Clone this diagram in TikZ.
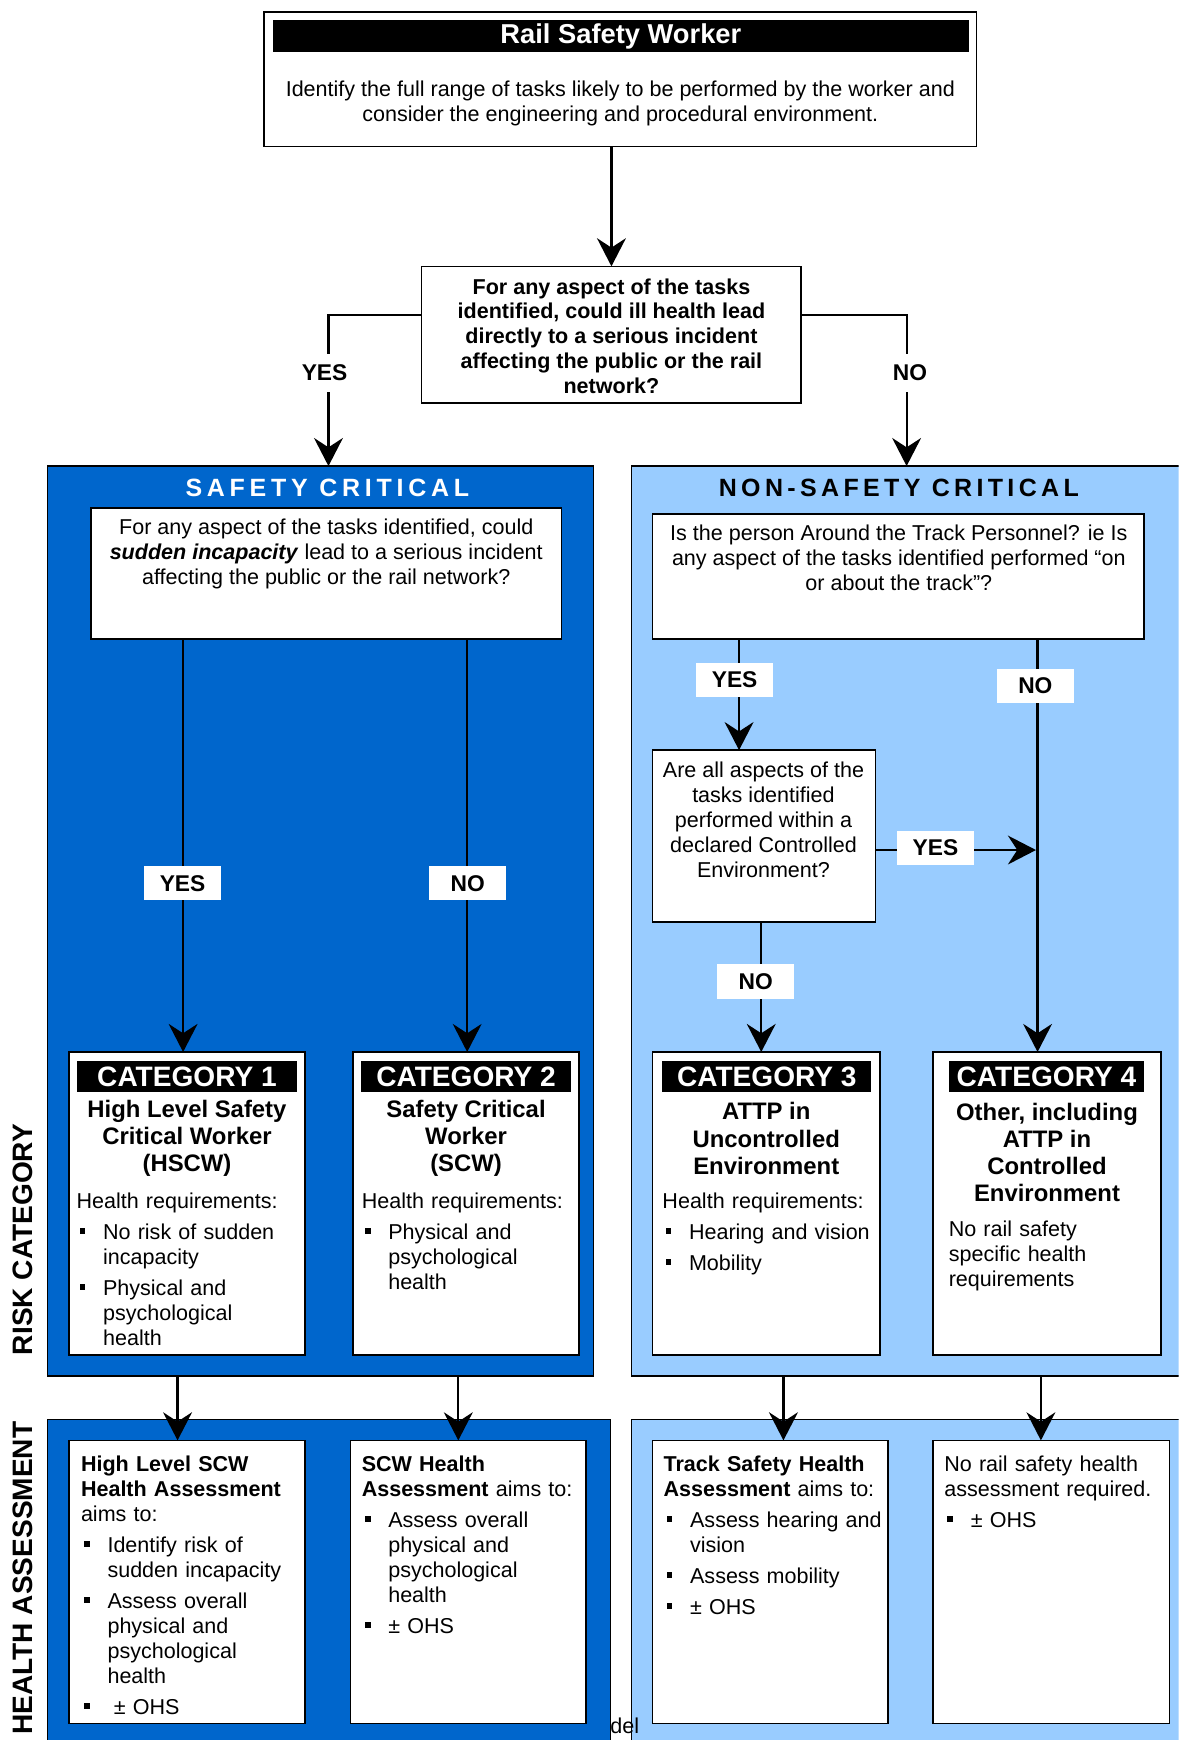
\documentclass[tikz,border=0pt]{standalone}
\usepackage{fontspec}
\setmainfont{Liberation Sans}
\usetikzlibrary{arrows.meta,fit}

\definecolor{scblue}{RGB}{0,102,204}
\definecolor{nscblue}{RGB}{153,204,255}

\newcommand\bodyfont{\fontsize{13.8}{16}\selectfont}
\newcommand\namefont{\fontsize{15.3}{17.4}\selectfont\bfseries}
% bullet item: new paragraph with hanging indent and a small square marker
\newcommand\bul[1][17pt]{\par\vspace{3.8pt}\hangindent=#1\hangafter=1\noindent
  \hbox to #1{\hskip2pt\rule[3.5pt]{3.6pt}{3.6pt}\hss}}
\newcommand\brk{\break}

\begin{document}
\begin{tikzpicture}[x=0.025cm,y=-0.025cm,
  every node/.style={inner sep=0pt,outer sep=0pt},
  whitebox/.style={draw=black,line width=1pt,fill=white},
  scpanel/.style={draw=black,line width=0.8pt,fill=scblue},
  nscpanel/.style={draw=black,line width=0.8pt,fill=nscblue},
  blackbar/.style={fill=black},
  bartext/.style={text=white,font=\fontsize{18}{20}\selectfont\bfseries},
  flowarrow/.style={line width=1.4pt,-{Stealth[length=18pt,width=18.5pt,inset=6pt]}},
  tagbox/.style={fill=white,minimum width=49.5pt,minimum height=22pt,
    font=\fontsize{14.6}{16}\selectfont\bfseries},
  outtag/.style={fill=white,minimum height=24pt,inner xsep=2pt,
    font=\fontsize{14.6}{16}\selectfont\bfseries},
  catname/.style={align=center,font=\namefont},
  ptext/.style={align=center,font=\bodyfont},
  qtext/.style={align=center,font=\bodyfont\bfseries},
  listtext/.style={anchor=north west,align=left,text width=6cm,font=\bodyfont},
  paneltitle/.style={font=\fontsize{16}{18}\selectfont\bfseries},
  sidelabel/.style={rotate=90,font=\fontsize{18}{20}\selectfont\bfseries},
]
\useasboundingbox (0,0) rectangle (1062,1568);
\clip (0,0) rectangle (1062,1568);

% ---------- coloured panels ----------
\node[scpanel, fit={(43,420) (535,1240)}] (sc) {};
\node[nscpanel, fit={(569,420) (1080,1240)}] (nsc) {};
\node[scpanel, fit={(43,1279) (550,1600)}] (hasc) {};
\node[nscpanel, fit={(569,1279) (1080,1600)}] (hansc) {};

\node[paneltitle, text=white] (sctitle) at (295,440) {\addfontfeature{LetterSpace=19}SAFETY CRITICAL};
\node[paneltitle] (nsctitle) at (810,440) {\addfontfeature{LetterSpace=17.5}NON-SAFETY CRITICAL};

% ---------- side labels ----------
\node[sidelabel] (riskcat) at (21,1117) {RISK CATEGORY};
\node[sidelabel, anchor=east] (healthas) at (21,1281) {HEALTH ASSESSMENT};

% ---------- top of the chart ----------
\node[whitebox, fit={(238,11) (880,132)}] (rsw) {};
\node[blackbar, fit={(246,18) (873,47)}] (rswbar) {};
\node[bartext, font=\fontsize{17.5}{20}\selectfont\bfseries] (rswtitle) at (rswbar) {Rail Safety Worker};
\node[ptext] (rswtext) at (559,93) {Identify the full range of tasks likely to be performed by the worker and\\consider the engineering and procedural environment.};

\node[whitebox, fit={(380,240) (722,363)}] (q1) {};
\node[qtext] (q1text) at (551,303) {For any aspect of the tasks\\identified, could ill health lead\\directly to a serious incident\\affecting the public or the rail\\network?};

\draw[flowarrow] (q1.north |- rsw.south) -- (q1.north);

\coordinate (yesturn) at (296,284);
\coordinate (noturn) at (817,284);
\draw[flowarrow] (q1.west |- yesturn) -- (yesturn) -- (yesturn |- sc.north);
\draw[flowarrow] (q1.east |- noturn) -- (noturn) -- (noturn |- nsc.north);
\node[outtag] (yes0) at (292.5,336) {YES};
\node[outtag] (no0) at (820,336) {NO};

% ---------- safety critical branch ----------
\node[whitebox, fit={(82,458) (506,576)}] (scq) {};
\node[ptext] (scqtext) at (294,499) {For any aspect of the tasks identified, could\\\textbf{\textit{sudden incapacity}} lead to a serious incident\\affecting the public or the rail network?};

\node[whitebox, fit={(62,948) (275,1221)}] (cat1) {};
\node[whitebox, fit={(318,948) (522,1221)}] (cat2) {};

\coordinate (c1x) at (165,0);
\coordinate (c2x) at (421,0);
\draw[flowarrow] (scq.south -| c1x) -- (cat1.north -| c1x);
\draw[flowarrow] (scq.south -| c2x) -- (cat2.north -| c2x);
\node[tagbox] (yes1) at (164.5,796) {YES};
\node[tagbox] (no1) at (421.5,796) {NO};

\node[blackbar, fit={(69,956) (268,984)}] (cat1bar) {};
\node[bartext] (cat1head) at (cat1bar) {CATEGORY 1};
\node[catname] (cat1name) at (168.5,1025.5) {High Level Safety\\Critical Worker\\(HSCW)};
\node[listtext] (cat1req) at (69,1075) {Health requirements:\bul No risk of sudden\brk incapacity\bul Physical and\brk psychological\brk health\par};

\node[blackbar, fit={(325,956) (515,984)}] (cat2bar) {};
\node[bartext] (cat2head) at (cat2bar) {CATEGORY 2};
\node[catname] (cat2name) at (420,1025.5) {Safety Critical\\Worker\\(SCW)};
\node[listtext] (cat2req) at (326,1075) {Health requirements:\bul Physical and\brk psychological\brk health\par};

% ---------- non-safety critical branch ----------
\node[whitebox, fit={(588,463) (1031,576)}] (nscq) {};
\node[ptext] (nscqtext) at (810,502.5) {Is the person Around the Track Personnel? ie Is\\any aspect of the tasks identified performed “on\\or about the track”?};

\node[whitebox, fit={(588,676) (789,831)}] (ce) {};
\node[ptext] (cetext) at (688,738.5) {Are all aspects of the\\tasks identified\\performed within a\\declared Controlled\\Environment?};

\node[whitebox, fit={(588,948) (793,1221)}] (cat3) {};
\node[whitebox, fit={(841,948) (1046,1221)}] (cat4) {};

\coordinate (yx) at (666,0);
\coordinate (nx) at (935,0);
\coordinate (cx) at (686,0);
\coordinate (cy) at (0,766);
\draw[flowarrow] (nscq.south -| yx) -- (ce.north -| yx);
\draw[flowarrow] (nscq.south -| nx) -- (cat4.north -| nx);
\draw[flowarrow] (ce.south -| cx) -- (cat3.north -| cx);
\draw[flowarrow, shorten >=1pt] (ce.east |- cy) -- (nx |- cy);
\node[tagbox] (yes2) at (662,612.5) {YES};
\node[tagbox] (no2) at (933,618) {NO};
\node[tagbox] (yes3) at (843,764) {YES};
\node[tagbox] (no3) at (681,884.5) {NO};

\node[blackbar, fit={(597,956) (785,984)}] (cat3bar) {};
\node[bartext] (cat3head) at (cat3bar) {CATEGORY 3};
\node[catname] (cat3name) at (690.5,1026) {ATTP in\\Uncontrolled\\Environment};
\node[listtext] (cat3req) at (597,1075) {Health requirements:\bul Hearing and vision\bul Mobility\par};

\node[blackbar, fit={(855,956) (1031,984)}] (cat4bar) {};
\node[bartext] (cat4head) at (cat4bar) {CATEGORY 4};
\node[catname] (cat4name) at (943.5,1038.5) {Other, including\\ATTP in\\Controlled\\Environment};
\node[listtext] (cat4req) at (855,1100) {No rail safety\brk specific health\brk requirements\par};

% ---------- health assessments ----------
\node[whitebox, fit={(62,1298) (275,1553)}] (ha1) {};
\node[whitebox, fit={(316,1298) (528,1553)}] (ha2) {};
\node[whitebox, fit={(588,1298) (800,1553)}] (ha3) {};
\node[whitebox, fit={(841,1298) (1054,1553)}] (ha4) {};

\coordinate (h1x) at (160,0);
\coordinate (h2x) at (413,0);
\coordinate (h3x) at (706,0);
\coordinate (h4x) at (938,0);
\draw[flowarrow] (sc.south -| h1x) -- (ha1.north -| h1x);
\draw[flowarrow] (sc.south -| h2x) -- (ha2.north -| h2x);
\draw[flowarrow] (nsc.south -| h3x) -- (ha3.north -| h3x);
\draw[flowarrow] (nsc.south -| h4x) -- (ha4.north -| h4x);

\node[listtext] (ha1text) at (73,1312) {\textbf{High Level SCW}\brk\textbf{Health Assessment}\brk aims to:\bul Identify risk of\brk sudden incapacity\bul Assess overall\brk physical and\brk psychological\brk health\bul\hspace{4pt}± OHS\par};
\node[listtext] (ha2text) at (326,1312) {\textbf{SCW Health}\brk\textbf{Assessment} aims to:\bul Assess overall\brk physical and\brk psychological\brk health\bul ± OHS\par};
\node[listtext] (ha3text) at (598,1312) {\textbf{Track Safety Health}\brk\textbf{Assessment} aims to:\bul Assess hearing and\brk vision\bul Assess mobility\bul ± OHS\par};
\node[listtext] (ha4text) at (851,1312) {No rail safety health\brk assessment required.\bul ± OHS\par};

\node[anchor=west, font=\bodyfont] (frag) at (550,1555) {del};
\end{tikzpicture}
\end{document}
